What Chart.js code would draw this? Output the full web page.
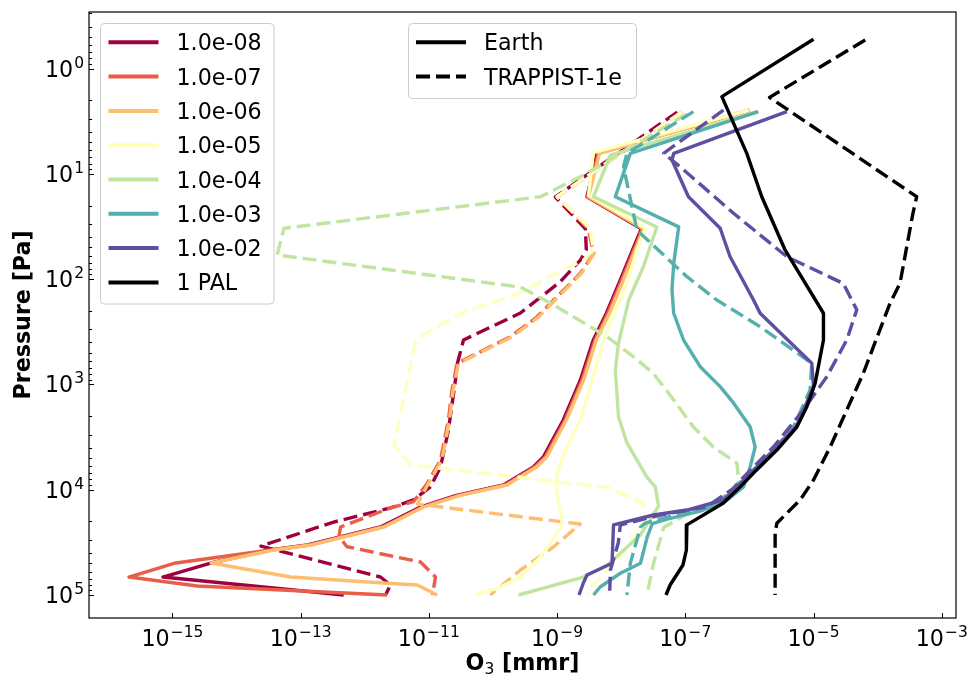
<!DOCTYPE html>
<html>
<head>
<meta charset="utf-8">
<script src="https://cdn.jsdelivr.net/npm/chart.js@4"></script>
<style>
  html, body { margin: 0; padding: 0; background: #fff; }
  #wrap { width: 973px; height: 680px; }
</style>
</head>
<body>
<div id="wrap"><canvas id="chart" width="973" height="680"></canvas></div>
<script>
// Legend labels for the seven O2 cases, plus the present-day case
const caseLabels = ['1.0e-08', '1.0e-07', '1.0e-06', '1.0e-05', '1.0e-04', '1.0e-03', '1.0e-02', '1 PAL'];
const planetLabels = ['Earth', 'TRAPPIST-1e'];

// Tick exponents
const xTickExps = [-15, -13, -11, -9, -7, -5, -3];
const yTickExps = [0, 1, 2, 3, 4, 5];

// Earth profiles (solid): pressure [Pa] and O3 [mmr]
const earth1e8P  = [2.48, 6.39, 16.5, 33.2, 102, 210, 379, 908, 2180, 4890, 6090, 9020, 11400, 14600, 22600, 33500, 37400, 49700, 67500, 100000];
const earth1e8O3 = [9.9e-7, 4.2e-9, 2.93e-9, 2.06e-8, 9.7e-9, 5.9e-9, 3.67e-9, 2.31e-9, 1.25e-9, 6.1e-10, 4.27e-10, 1.46e-10, 2.6e-11, 7.4e-12, 1.76e-12, 1.28e-13, 3.4e-14, 3.95e-15, 7.1e-16, 4.7e-13];

const earth1e7P  = [2.48, 6.39, 16.5, 33.2, 102, 210, 379, 908, 2180, 4890, 6090, 9020, 11400, 14600, 22600, 33500, 37400, 50000, 67500, 82200, 100000];
const earth1e7O3 = [1.0e-6, 4.4e-9, 3.0e-9, 2.15e-8, 1.02e-8, 6.2e-9, 3.9e-9, 2.45e-9, 1.33e-9, 6.5e-10, 4.5e-10, 1.55e-10, 2.8e-11, 7.9e-12, 1.9e-12, 1.4e-13, 3.4e-14, 1.06e-15, 2.1e-16, 2.45e-15, 2.24e-12];

const earth1e6P  = [2.48, 6.39, 16.5, 33.2, 102, 210, 379, 908, 2180, 4890, 6090, 9020, 11400, 14600, 22600, 33500, 37400, 49700, 67500, 77400, 80400, 100000];
const earth1e6O3 = [1.0e-6, 4.6e-9, 3.1e-9, 2.25e-8, 1.08e-8, 6.6e-9, 4.1e-9, 2.6e-9, 1.4e-9, 6.9e-10, 4.8e-10, 1.65e-10, 3.0e-11, 8.3e-12, 2.0e-12, 1.45e-13, 3.8e-14, 4.0e-15, 7.0e-14, 2.24e-12, 6.6e-12, 1.35e-11];

const earth1e5P  = [2.48, 6.3, 15.9, 32.9, 52.9, 102, 210, 379, 908, 2180, 4200, 6940, 9020, 19400, 22800, 43600, 67500, 84000, 100000];
const earth1e5O3 = [9.8e-7, 3.67e-9, 3.1e-9, 2.38e-8, 1.76e-8, 1.29e-8, 7.8e-9, 5.3e-9, 3.55e-9, 2.31e-9, 1.35e-9, 1.01e-9, 9.4e-10, 1.2e-9, 1.15e-9, 5.5e-10, 2.68e-10, 1.31e-10, 5.3e-11];

const earth1e4P  = [2.57, 6.63, 16.5, 32, 76, 158, 405, 730, 2040, 3600, 7600, 9400, 14300, 26900, 51900, 67500, 100000];
const earth1e4O3 = [1.3e-6, 6.8e-9, 3.7e-9, 3.6e-8, 2.23e-8, 1.31e-8, 9.1e-9, 8.1e-9, 9.1e-9, 1.23e-8, 2.52e-8, 3.4e-8, 3.83e-8, 1.99e-8, 6.1e-9, 2.57e-9, 2.5e-10];

const earth1e3P  = [2.57, 6.39, 16.5, 31.9, 70.8, 127, 211, 379, 679, 1051, 1500, 2540, 3930, 6050, 9420, 12900, 16000, 19000, 21000, 28100, 50000, 62200, 84000, 100000];
const earth1e3O3 = [1.38e-6, 1.39e-8, 8.1e-9, 7.9e-8, 6.6e-8, 6.2e-8, 6.6e-8, 9.4e-8, 1.71e-7, 3.5e-7, 5.65e-7, 1.03e-6, 1.23e-6, 1.03e-6, 8.1e-7, 4.2e-7, 1.71e-7, 5.2e-8, 3.06e-8, 2.55e-8, 2.0e-8, 9.7e-9, 4.7e-9, 3.7e-9];

const earth1e2P  = [2.57, 6.39, 7.39, 16.5, 32.9, 61.3, 158, 211, 631, 1050, 2450, 3930, 7600, 12500, 15600, 17400, 21600, 50000, 64600, 76900, 100000];
const earth1e2O3 = [3.84e-6, 6.6e-8, 6.2e-8, 1.12e-7, 3.5e-7, 5.0e-7, 1.16e-6, 1.47e-6, 9.4e-6, 1.0e-5, 5.5e-6, 2.68e-6, 9.1e-7, 3.94e-7, 1.06e-7, 3.2e-8, 7.6e-9, 7.2e-9, 2.93e-9, 2.57e-9, 2.2e-9];

const earthPalP  = [0.528, 1.85, 6.39, 16.5, 52.9, 211, 379, 977, 1630, 2540, 4200, 6940, 9400, 13400, 21600, 37400, 51900, 80400, 100000];
const earthPalO3 = [1.0e-5, 3.72e-7, 9.1e-7, 1.56e-6, 3.6e-6, 1.43e-5, 1.43e-5, 1.06e-5, 7.87e-6, 5.5e-6, 2.68e-6, 1.16e-6, 7.2e-7, 3.94e-7, 1.06e-7, 1.04e-7, 9.2e-8, 5.8e-8, 5.0e-8];

// TRAPPIST-1e profiles (dashed)
const trap1e8P  = [2.59, 16.6, 33.2, 52.9, 65.9, 106, 210, 379, 627, 908, 2710, 6090, 9420, 12500, 14900, 20300, 34300, 67500, 80400, 100000];
const trap1e8O3 = [7.5e-8, 9.4e-10, 2.76e-9, 2.86e-9, 2.31e-9, 1.12e-9, 2.68e-10, 3.47e-11, 2.8e-11, 2.6e-11, 2.02e-11, 1.52e-11, 1.06e-11, 5.75e-12, 2.52e-12, 3.27e-13, 2.4e-14, 1.76e-12, 2.52e-12, 2.11e-12];

const trap1e7P  = [2.59, 16.5, 33.2, 56.9, 88, 158, 228, 352, 631, 1130, 2180, 5220, 8750, 13000, 14900, 22600, 27900, 34800, 48600, 67500, 100000];
const trap1e7O3 = [8.9e-8, 1.0e-9, 3.07e-9, 3.7e-9, 2.31e-9, 8.85e-10, 4.88e-10, 1.87e-10, 2.76e-11, 2.3e-11, 2.02e-11, 1.52e-11, 9.4e-12, 5.75e-12, 2.52e-12, 4.2e-13, 3.95e-13, 5.3e-13, 7.4e-12, 1.27e-11, 1.14e-11];

const trap1e6P  = [2.59, 16.5, 33.2, 56.9, 88, 158, 228, 352, 631, 1130, 2180, 5220, 8750, 13700, 21200, 35000, 57900, 100000];
const trap1e6O3 = [8.9e-8, 1.0e-9, 3.2e-9, 3.8e-9, 2.4e-9, 9.3e-10, 5.2e-10, 2.0e-10, 2.9e-11, 2.4e-11, 2.1e-11, 1.6e-11, 9.8e-12, 6.65e-12, 2.3e-9, 8.75e-10, 2.68e-10, 9.1e-11];

const trap1e5P  = [2.59, 16.5, 32.9, 52.9, 65.9, 91.4, 136, 205, 352, 393, 3760, 5830, 7570, 8440, 9420, 13400, 19400, 43600, 85800, 100000];
const trap1e5O3 = [8.9e-8, 1.0e-9, 3.3e-9, 3.7e-9, 2.6e-9, 8.75e-10, 2.68e-10, 3.5e-11, 7.4e-12, 6.2e-12, 2.84e-12, 5.2e-12, 2.38e-10, 1.0e-9, 6.0e-9, 2.23e-8, 2.38e-8, 9.7e-9, 3.3e-9, 3.07e-9];

const trap1e4P  = [2.7, 9.9, 16.5, 32.9, 59, 119, 176, 352, 546, 790, 1406, 2540, 3930, 5620, 8450, 12500, 16300, 22900, 50000, 100000];
const trap1e4O3 = [1.06e-7, 2.93e-9, 5.5e-10, 5.5e-14, 4.3e-14, 2.68e-10, 8.85e-10, 6.0e-9, 1.56e-8, 3.2e-8, 6.6e-8, 1.34e-7, 2.75e-7, 6.4e-7, 6.8e-7, 3.5e-7, 1.19e-7, 4.6e-8, 3.2e-8, 2.52e-8];

const trap1e3P  = [2.57, 6.39, 8.57, 34.2, 94.9, 158, 283, 631, 1130, 2540, 4200, 6940, 11700, 14900, 18200, 20800, 22600, 50000, 100000];
const trap1e3O3 = [1.34e-7, 1.23e-8, 1.09e-8, 1.76e-8, 1.06e-7, 3.1e-7, 1.47e-6, 9.4e-6, 8.85e-6, 4.86e-6, 2.37e-6, 1.03e-6, 4.2e-7, 1.71e-7, 5.2e-8, 2.38e-8, 2.0e-8, 1.39e-8, 1.23e-8];

const trap1e2P  = [2.48, 6.39, 8.57, 23.7, 61.3, 110, 196, 379, 845, 1750, 3930, 7600, 9700, 14500, 17400, 21600, 32100, 57900, 100000];
const trap1e2O3 = [3.94e-7, 4.6e-8, 8.3e-8, 5.65e-7, 3.84e-6, 2.92e-5, 4.73e-5, 3.3e-5, 1.61e-5, 6.97e-6, 2.37e-6, 8.1e-7, 5.65e-7, 2.17e-7, 4.07e-8, 9.7e-9, 9.0e-9, 6.8e-9, 6.6e-9];

const trapPalP  = [0.536, 1.88, 16.5, 23.6, 109, 170, 780, 1750, 3930, 8090, 12500, 20800, 25500, 100000];
const trapPalO3 = [6.4e-5, 2.06e-6, 4.07e-4, 3.56e-4, 2.24e-4, 1.56e-4, 6.0e-5, 3.3e-5, 1.82e-5, 1.0e-5, 6.2e-6, 2.68e-6, 2.52e-6, 2.52e-6];

// Spectral colormap samples, black for present-day
const colours = ['#9e0142', '#ea5d47', '#fdbf6f', '#ffffbf', '#bfe5a0', '#55afad', '#5e4fa2', '#000000'];

const earthSets = [
  [earth1e8P, earth1e8O3], [earth1e7P, earth1e7O3], [earth1e6P, earth1e6O3], [earth1e5P, earth1e5O3],
  [earth1e4P, earth1e4O3], [earth1e3P, earth1e3O3], [earth1e2P, earth1e2O3], [earthPalP, earthPalO3]
];
const trapSets = [
  [trap1e8P, trap1e8O3], [trap1e7P, trap1e7O3], [trap1e6P, trap1e6O3], [trap1e5P, trap1e5O3],
  [trap1e4P, trap1e4O3], [trap1e3P, trap1e3O3], [trap1e2P, trap1e2O3], [trapPalP, trapPalO3]
];

const LW = 3.4;
const DASH = [14, 6];
const FONT = "'DejaVu Sans', 'Liberation Sans', sans-serif";
const FS = 22.2;
const SUPFS = 15.5;

function toPoints(p, o3) {
  return p.map((v, i) => ({ x: o3[i], y: v }));
}

// Build datasets: later ones on top (as in matplotlib)
const datasets = [];
caseLabels.forEach((lab, i) => {
  datasets.push({
    label: lab + ' Earth', data: toPoints(earthSets[i][0], earthSets[i][1]),
    borderColor: colours[i], borderWidth: LW, borderJoinStyle: 'round'
  });
  datasets.push({
    label: lab + ' TRAPPIST-1e', data: toPoints(trapSets[i][0], trapSets[i][1]),
    borderColor: colours[i], borderWidth: LW, borderDash: DASH, borderJoinStyle: 'round'
  });
});
datasets.forEach((d, i) => {
  d.showLine = true;
  d.pointRadius = 0;
  d.pointHoverRadius = 0;
  d.fill = false;
  d.tension = 0;
  d.order = datasets.length - i;
});

// Draw "10^n" with a raised exponent
function powLabel(ctx, exp, x, y, align) {
  const e = exp < 0 ? '\u2212' + (-exp) : String(exp);
  ctx.font = `${FS}px ${FONT}`;
  const w1 = ctx.measureText('10').width;
  ctx.font = `${SUPFS}px ${FONT}`;
  const w2 = ctx.measureText(e).width;
  const left = align === 'right' ? x - w1 - w2 - 1 : x - (w1 + w2 + 1) / 2;
  ctx.textAlign = 'left';
  ctx.textBaseline = 'alphabetic';
  ctx.font = `${FS}px ${FONT}`;
  ctx.fillText('10', left, y);
  ctx.font = `${SUPFS}px ${FONT}`;
  ctx.fillText(e, left + w1 + 1, y - 9);
}

function legendFrame(ctx, x, y, w, h) {
  const r = 4;
  ctx.beginPath();
  ctx.moveTo(x + r, y);
  ctx.arcTo(x + w, y, x + w, y + h, r);
  ctx.arcTo(x + w, y + h, x, y + h, r);
  ctx.arcTo(x, y + h, x, y, r);
  ctx.arcTo(x, y, x + w, y, r);
  ctx.closePath();
  ctx.fillStyle = 'rgba(255,255,255,0.8)';
  ctx.fill();
  ctx.strokeStyle = '#cccccc';
  ctx.lineWidth = 1;
  ctx.stroke();
}

function legendRow(ctx, x, y, colour, dash, text) {
  ctx.save();
  ctx.strokeStyle = colour;
  ctx.lineWidth = 4;
  ctx.setLineDash(dash);
  ctx.beginPath();
  ctx.moveTo(x, y);
  ctx.lineTo(x + 50, y);
  ctx.stroke();
  ctx.restore();
  ctx.fillStyle = '#000';
  ctx.font = `${FS}px ${FONT}`;
  ctx.textAlign = 'left';
  ctx.textBaseline = 'alphabetic';
  ctx.fillText(text, x + 68, y + 8);
}

const axesPlugin = {
  id: 'axesPlugin',
  afterDraw(chart) {
    const ctx = chart.ctx;
    const a = chart.chartArea;
    const xs = chart.scales.x;
    const ys = chart.scales.y;
    ctx.save();

    // frame
    ctx.strokeStyle = '#000';
    ctx.lineWidth = 1.2;
    ctx.strokeRect(a.left, a.top, a.right - a.left, a.bottom - a.top);

    // y ticks (inward), majors and minors
    ctx.lineWidth = 1;
    ctx.beginPath();
    for (let e = -1; e <= 5; e++) {
      for (let k = 1; k <= 9; k++) {
        const v = k * Math.pow(10, e);
        const py = ys.getPixelForValue(v);
        if (py < a.top || py > a.bottom) continue;
        const len = k === 1 ? 5 : 3;
        ctx.moveTo(a.left, Math.round(py) + 0.5);
        ctx.lineTo(a.left + len, Math.round(py) + 0.5);
      }
    }
    // x ticks (inward)
    xTickExps.forEach(e => {
      const px = xs.getPixelForValue(Math.pow(10, e));
      ctx.moveTo(Math.round(px) + 0.5, a.bottom);
      ctx.lineTo(Math.round(px) + 0.5, a.bottom - 5);
    });
    ctx.stroke();

    // tick labels
    ctx.fillStyle = '#000';
    yTickExps.forEach(e => {
      const py = ys.getPixelForValue(Math.pow(10, e));
      powLabel(ctx, e, a.left - 5, py + 8, 'right');
    });
    xTickExps.forEach(e => {
      const px = xs.getPixelForValue(Math.pow(10, e));
      powLabel(ctx, e, px, a.bottom + 28, 'center');
    });

    // axis titles
    ctx.font = `bold ${FS}px ${FONT}`;
    const wO = ctx.measureText('O').width;
    const wRest = ctx.measureText(' [mmr]').width;
    ctx.font = `${SUPFS}px ${FONT}`;
    const w3 = ctx.measureText('3').width;
    const total = wO + w3 + wRest;
    let tx = (a.left + a.right) / 2 - total / 2;
    const ty = 670;
    ctx.textAlign = 'left';
    ctx.textBaseline = 'alphabetic';
    ctx.font = `bold ${FS}px ${FONT}`;
    ctx.fillText('O', tx, ty);
    ctx.font = `${SUPFS}px ${FONT}`;
    ctx.fillText('3', tx + wO, ty + 4);
    ctx.font = `bold ${FS}px ${FONT}`;
    ctx.fillText(' [mmr]', tx + wO + w3, ty);

    ctx.save();
    ctx.translate(24, (a.top + a.bottom) / 2);
    ctx.rotate(-Math.PI / 2);
    ctx.textAlign = 'center';
    ctx.textBaseline = 'middle';
    ctx.font = `bold ${FS}px ${FONT}`;
    ctx.fillText('Pressure [Pa]', 0, 0);
    ctx.restore();

    // legend: cases
    legendFrame(ctx, 100.5, 23.5, 173.5, 280.5);
    caseLabels.forEach((lab, i) => {
      legendRow(ctx, 108.5, 42.3 + i * 34.3, colours[i], [], lab);
    });
    // legend: planets
    legendFrame(ctx, 408.5, 23.5, 228, 75);
    legendRow(ctx, 416, 42.3, '#000', [], planetLabels[0]);
    legendRow(ctx, 416, 76.6, '#000', DASH, planetLabels[1]);

    ctx.restore();
  }
};

new Chart(document.getElementById('chart'), {
  type: 'scatter',
  data: { datasets },
  options: {
    responsive: false,
    animation: false,
    devicePixelRatio: 1,
    layout: { padding: { top: 12, right: 17, left: 0, bottom: 0 } },
    plugins: { legend: { display: false }, tooltip: { enabled: false } },
    scales: {
      x: {
        type: 'logarithmic', position: 'bottom',
        min: 5.14e-17, max: 1.67e-3,
        ticks: { display: false }, grid: { display: false }, border: { display: false },
        afterFit(s) { s.height = 62; }
      },
      y: {
        type: 'logarithmic', position: 'left', reverse: true,
        min: 0.2906, max: 1.654e5,
        ticks: { display: false }, grid: { display: false }, border: { display: false },
        afterFit(s) { s.width = 89; }
      }
    }
  },
  plugins: [axesPlugin]
});
</script>
</body>
</html>
